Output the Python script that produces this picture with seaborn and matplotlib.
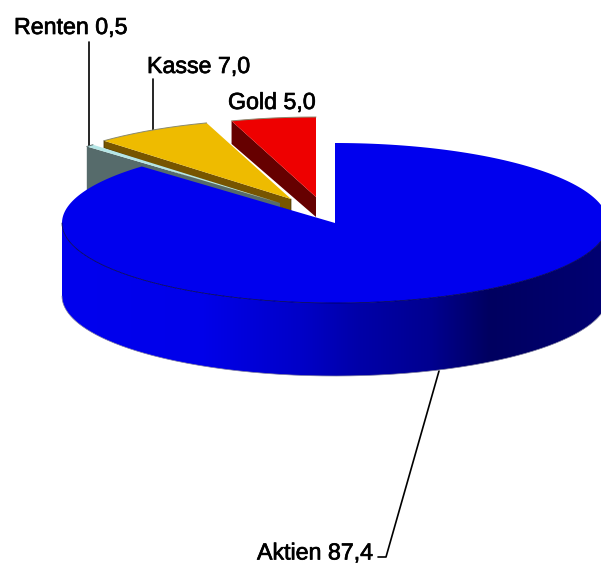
import numpy as np
import matplotlib
matplotlib.use("Agg")
import matplotlib.pyplot as plt
import matplotlib.patheffects as pe
from matplotlib.patches import Polygon
import seaborn as sns

# Data
categories = ["Aktien", "Renten", "Kasse", "Gold"]
values = [87.4, 0.5, 7.0, 5.0]
value_labels = ["87,4", "0,5", "7,0", "5,0"]

sns.set_theme(style="white")
plt.rcParams["font.family"] = ["Liberation Sans", "DejaVu Sans"]

# Pie geometry (pixels)
CX, CY, RX, RY, DEPTH = 335, 223, 273, 80, 73
fig = plt.figure(figsize=(6.01, 5.63), dpi=100)
ax = fig.add_axes([0, 0, 1, 1])
ax.set_xlim(0, 601)
ax.set_ylim(563, 0)
ax.axis("off")

fr = np.array(values) / sum(values)
edges = np.concatenate([[0], np.cumsum(fr)]) * 2 * np.pi


def rim(cx, cy, a):
    a = np.asarray(a)
    return cx + RX * np.sin(a), cy - RY * np.cos(a)


def slice_top(i, cx, cy, color, z=2, outline="#8a8a70"):
    a = np.linspace(edges[i], edges[i + 1], 240)
    x, y = rim(cx, cy, a)
    ax.fill(np.r_[cx, x], np.r_[cy, y], color=color, lw=0, zorder=z)
    if outline:
        ax.plot(x, y, color=outline, lw=0.7, zorder=z + 0.1)


# Gold (exploded)
gc = (316, 197)
x1, y1 = rim(*gc, edges[3])
ax.fill([x1, x1, gc[0], gc[0]], [y1, y1 + 23, gc[1] + 20, gc[1]], color="#660000", lw=0, zorder=1.1)
slice_top(3, *gc, "#ee0000", z=1.2)

# Kasse (exploded)
kc = (291, 199)
x2, y2 = rim(*kc, edges[2])
ax.fill([x2, x2, kc[0], kc[0]], [y2, y2 + 7, kc[1] + 12, kc[1]], color="#775500", lw=0, zorder=1.3)
ax.plot([x2, x2, kc[0], kc[0]], [y2, y2 + 7, kc[1] + 12, kc[1]], color="#403000", lw=0.5, zorder=1.35)
slice_top(2, *kc, "#eebb00", z=1.4)

# Renten (exploded), in front of Kasse
rc = (280, 203)
x0, y0 = rim(*rc, edges[1])
ax.fill([x0, x0, rc[0], rc[0]], [y0, y0 + DEPTH, rc[1] + DEPTH, rc[1]], color="#566b6b", lw=0, zorder=1.5)
slice_top(1, *rc, "#b5e6e6", z=1.6, outline="#607070")

# Aktien: outer wall with horizontal shading, then top face
a = np.linspace(np.pi / 2, 3 * np.pi / 2, 300)
sx, sy = rim(CX, CY, a)
wall = Polygon(np.c_[np.r_[sx, sx[::-1]], np.r_[sy, sy[::-1] + DEPTH]], closed=True,
               fc="none", ec="none", transform=ax.transData)
ax.add_patch(wall)
stops = [(62, "#0000ee"), (200, "#0000ea"), (300, "#0000c8"), (360, "#0000a8"),
         (430, "#000090"), (490, "#000060"), (601, "#000072")]
pal = []
for (xa, ca), (xb, cb) in zip(stops[:-1], stops[1:]):
    pal += sns.blend_palette([ca, cb], xb - xa)
im = ax.imshow(np.array(pal)[None, :, :], extent=(62, 601, 563, 0), aspect="auto",
               interpolation="bilinear", zorder=2)
im.set_clip_path(wall)
ax.set_xlim(0, 601)
ax.set_ylim(563, 0)
ax.plot(sx, sy + DEPTH, color="#8080a0", lw=0.5, zorder=2.1)
slice_top(0, CX, CY, "#0000ee", z=2.2, outline=None)
ax.plot(sx, sy, color="#000050", lw=0.55, zorder=2.3)

# Labels and leaders
labels = [f"{c} {v}" for c, v in zip(categories, value_labels)]
label_pos = [(257, 559.5), (14, 34), (147, 73), (228, 109)]
stroke = [pe.withStroke(linewidth=0.5, foreground="black")]
for t, (lx, ly) in zip(labels, label_pos):
    ax.text(lx, ly, t, fontsize=16.7, color="black", ha="left", va="baseline",
            zorder=5, path_effects=stroke)
leaders = [([439, 386, 378], [371, 557, 557]), ([89, 89], [42, 146]), ([153, 153], [79, 131])]
for lxs, lys in leaders:
    ax.plot(lxs, lys, color="black", lw=1.2, zorder=1)

fig.savefig("out.png", dpi=100)
